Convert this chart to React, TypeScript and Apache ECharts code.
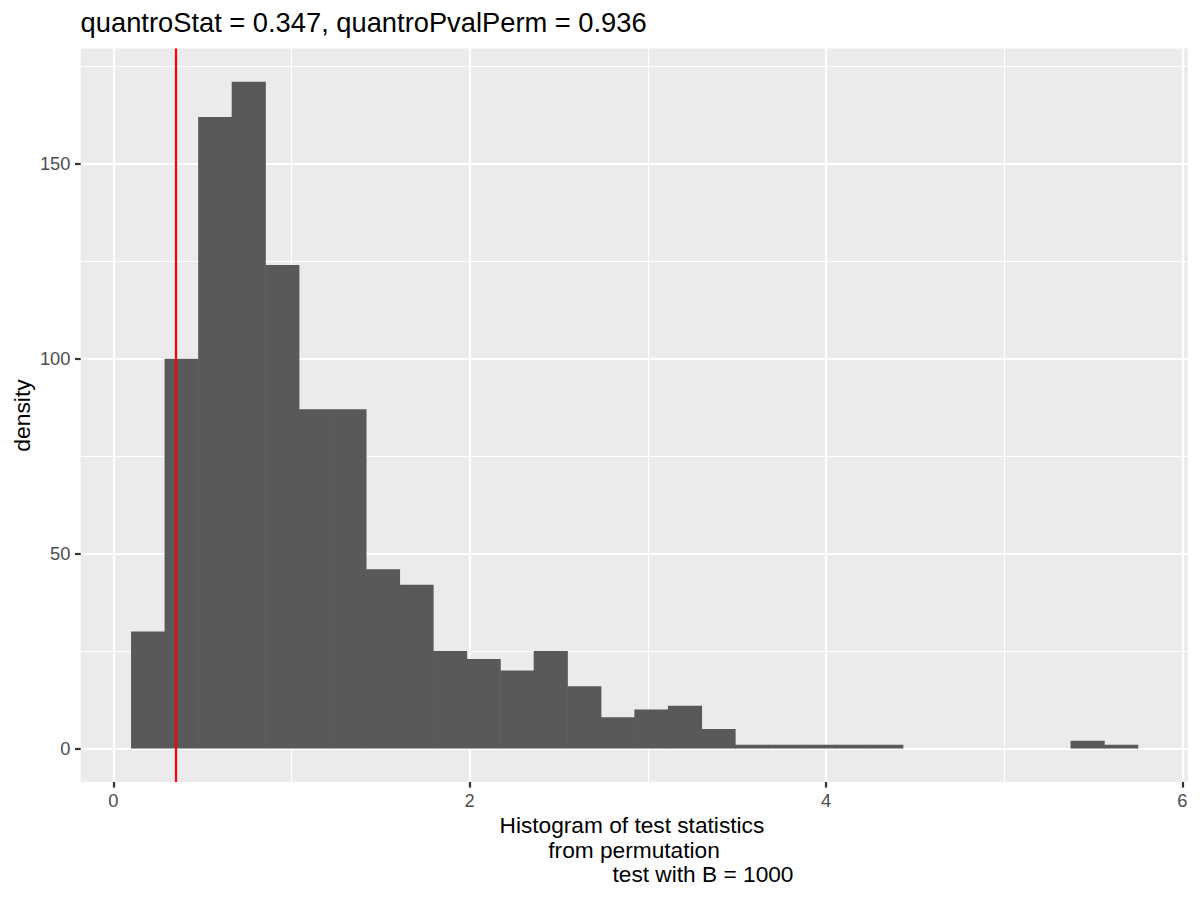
import React, { useEffect, useRef } from "react";
import * as echarts from "echarts";

// Histogram bin counts (30 bins)
const counts = [
  30, 100, 162, 171, 124, 87, 87, 46, 42, 25,
  23, 20, 25, 16, 8, 10, 11, 5, 1, 1,
  1, 1, 1, 0, 0, 0, 0, 0, 2, 1,
];
const binStart = 0.0993;
const binWidth = 0.18834;
const statValue = 0.347;

const xMajorTicks = [0, 2, 4, 6];
const xMinorTicks = [1, 3, 5];
const yMajorTicks = [0, 50, 100, 150];
const yMinorTicks = [25, 75, 125, 175];

const titleText = "quantroStat = 0.347, quantroPvalPerm = 0.936";
const xTitleLines = [
  "Histogram of test statistics",
  "from permutation",
  "test with B = 1000",
];
const yTitleText = "density";

const FONT = "'Liberation Sans', Arial, Helvetica, sans-serif";

export default function App() {
  const ref = useRef<HTMLDivElement>(null);

  useEffect(() => {
    document.body.style.margin = "0";
    if (!ref.current) return;
    const chart = echarts.init(ref.current, undefined, { renderer: "svg" });

    const bins = counts.map((c, i) => [
      binStart + i * binWidth,
      binStart + (i + 1) * binWidth,
      c,
    ]);
    const dataMinX = binStart;
    const dataMaxX = binStart + counts.length * binWidth;
    const spanX = dataMaxX - dataMinX;
    const xMin = dataMinX - 0.05 * spanX;
    const xMax = dataMaxX + 0.05 * spanX;
    const yTop = Math.max(...counts);
    const yMin = -0.05 * yTop;
    const yMax = yTop * 1.05;

    const tickLabelStyle = {
      color: "#4D4D4D",
      fontSize: 18.3,
      fontFamily: FONT,
    };

    const option: any = {
      animation: false,
      backgroundColor: "#FFFFFF",
      grid: {
        left: 80.7,
        right: 12,
        top: 48.5,
        bottom: 118.1,
        show: true,
        backgroundColor: "#EBEBEB",
        borderWidth: 0,
        containLabel: false,
      },
      xAxis: [
        {
          type: "value",
          min: xMin,
          max: xMax,
          position: "bottom",
          axisLine: { show: false, onZero: false },
          axisTick: {
            show: true,
            inside: false,
            customValues: xMajorTicks,
            length: 5.7,
            lineStyle: { color: "#333333", width: 2.2 },
          },
          axisLabel: {
            show: true,
            customValues: xMajorTicks,
            margin: 9.5,
            ...tickLabelStyle,
          },
          splitLine: {
            show: true,
            lineStyle: { color: "#FFFFFF", width: 2.2 },
          },
        },
        {
          type: "value",
          min: xMin,
          max: xMax,
          position: "bottom",
          axisLine: { show: false, onZero: false },
          axisTick: { show: false, customValues: xMinorTicks },
          axisLabel: { show: false, customValues: xMinorTicks },
          splitLine: {
            show: true,
            lineStyle: { color: "#FFFFFF", width: 1.1 },
          },
        },
      ],
      yAxis: [
        {
          type: "value",
          min: yMin,
          max: yMax,
          position: "left",
          axisLine: { show: false, onZero: false },
          axisTick: {
            show: true,
            inside: false,
            customValues: yMajorTicks,
            length: 5.7,
            lineStyle: { color: "#333333", width: 2.2 },
          },
          axisLabel: {
            show: true,
            customValues: yMajorTicks,
            margin: 10.3,
            ...tickLabelStyle,
          },
          splitLine: {
            show: true,
            lineStyle: { color: "#FFFFFF", width: 2.2 },
          },
        },
        {
          type: "value",
          min: yMin,
          max: yMax,
          position: "left",
          axisLine: { show: false, onZero: false },
          axisTick: { show: false, customValues: yMinorTicks },
          axisLabel: { show: false, customValues: yMinorTicks },
          splitLine: {
            show: true,
            lineStyle: { color: "#FFFFFF", width: 1.1 },
          },
        },
      ],
      series: [
        {
          type: "custom",
          xAxisIndex: 0,
          yAxisIndex: 0,
          data: bins,
          encode: { x: [0, 1], y: 2 },
          renderItem: (params: any, api: any) => {
            const x0 = api.value(0);
            const x1 = api.value(1);
            const y = api.value(2);
            if (!y) return null;
            const p0 = api.coord([x0, 0]);
            const p1 = api.coord([x1, y]);
            return {
              type: "rect",
              shape: {
                x: p0[0],
                y: p1[1],
                width: p1[0] - p0[0] + 0.6,
                height: p0[1] - p1[1],
              },
              style: { fill: "#595959" },
            };
          },
          markLine: {
            silent: true,
            symbol: ["none", "none"],
            label: { show: false },
            lineStyle: { color: "#FF0000", width: 2.2, type: "solid" },
            data: [{ xAxis: statValue }],
          },
        },
      ],
      graphic: [
        {
          type: "text",
          x: 80.6,
          y: 22.2,
          style: {
            text: titleText,
            fontSize: 27.3,
            fontFamily: FONT,
            fill: "#000000",
            align: "left",
            verticalAlign: "middle",
          },
        },
        {
          type: "text",
          x: 22,
          y: 415.5,
          rotation: Math.PI / 2,
          style: {
            text: yTitleText,
            fontSize: 22.9,
            fontFamily: FONT,
            fill: "#000000",
            align: "center",
            verticalAlign: "middle",
          },
        },
        {
          type: "text",
          x: 499.5,
          y: 824.8,
          style: {
            text: xTitleLines[0],
            fontSize: 22.7,
            fontFamily: FONT,
            fill: "#000000",
            align: "left",
            verticalAlign: "middle",
          },
        },
        {
          type: "text",
          x: 548.3,
          y: 850.3,
          style: {
            text: xTitleLines[1],
            fontSize: 22.7,
            fontFamily: FONT,
            fill: "#000000",
            align: "left",
            verticalAlign: "middle",
          },
        },
        {
          type: "text",
          x: 612.5,
          y: 873.8,
          style: {
            text: xTitleLines[2],
            fontSize: 22.7,
            fontFamily: FONT,
            fill: "#000000",
            align: "left",
            verticalAlign: "middle",
          },
        },
      ],
    };

    chart.setOption(option);
    return () => {
      chart.dispose();
    };
  }, []);

  return <div ref={ref} style={{ width: 1200, height: 900 }} />;
}
